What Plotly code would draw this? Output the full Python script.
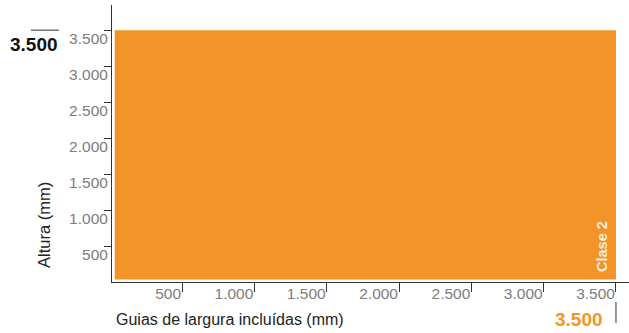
import plotly.graph_objects as go

# data
tick_vals = [500, 1000, 1500, 2000, 2500, 3000, 3500]
tick_text = ["500", "1.000", "1.500", "2.000", "2.500", "3.000", "3.500"]
clase_label = "Clase 2"
clase_width = [35, 3500]    # guias de largura (mm)
clase_height = [35, 3500]   # altura (mm)
max_width_label = "3.500"
max_height_label = "3.500"

ORANGE = "#F29427"
AXIS = "#333333"
TICKC = "#7d7d7d"
FONT = "Liberation Sans, Arial, sans-serif"

x0, x1 = clase_width
y0, y1 = clase_height

fig = go.Figure()
fig.add_trace(go.Scatter(
    x=[x0, x1, x1, x0, x0], y=[y0, y0, y1, y1, y0],
    fill="toself", fillcolor=ORANGE, mode="none", hoverinfo="skip",
    showlegend=False,
))

axis_common = dict(
    tickvals=tick_vals, ticktext=tick_text,
    ticks="outside", tickcolor=AXIS, tickwidth=1,
    showline=True, linecolor=AXIS, linewidth=1,
    showgrid=False, zeroline=False, automargin=False,
    tickfont=dict(family=FONT, size=15.5, color=TICKC),
)

fig.update_xaxes(range=[16, 3590], ticklen=9, ticklabelstandoff=-3,
                 ticklabelposition="outside left", **axis_common)
fig.update_yaxes(range=[0, 3850], ticklen=7, ticklabelshift=-3,
                 ticklabelposition="outside bottom", **axis_common)

# labels
fig.add_annotation(text="Guias de largura incluídas (mm)", xref="paper", yref="paper",
                   x=0.004, y=-0.137, xanchor="left", yanchor="middle", showarrow=False,
                   font=dict(family=FONT, size=16, color="#222"))
fig.add_annotation(text="Altura (mm)", xref="paper", yref="paper", textangle=-90,
                   x=-0.1315, y=0.206, xanchor="center", yanchor="middle", showarrow=False,
                   font=dict(family=FONT, size=16.5, color="#222"))

# max height marker
fig.add_annotation(text="<b>" + max_height_label + "</b>", xref="paper", yref="y",
                   x=-0.100, y=clase_height[1], xanchor="right", yanchor="top", yshift=-2,
                   showarrow=False, font=dict(family=FONT, size=19, color="#111"))
fig.add_shape(type="line", xref="paper", yref="y", x0=-0.1567, x1=-0.1025,
              y0=clase_height[1], y1=clase_height[1], line=dict(color=AXIS, width=1))

# max width marker
fig.add_annotation(text="<b>" + max_width_label + "</b>", xref="x", yref="paper",
                   x=clase_width[1], y=-0.1336, xanchor="right", yanchor="middle", xshift=-11,
                   showarrow=False, font=dict(family=FONT, size=19, color=ORANGE))
fig.add_shape(type="line", xref="x", yref="paper", x0=clase_width[1], x1=clase_width[1],
              y0=-0.148, y1=-0.072, line=dict(color=AXIS, width=1))

# class label
fig.add_annotation(text="<b>" + clase_label + "</b>", xref="x", yref="y", textangle=-90,
                   x=clase_width[1], y=clase_height[0], xanchor="right", yanchor="bottom",
                   xshift=-4, yshift=6, showarrow=False,
                   font=dict(family=FONT, size=14.5, color="rgba(255,255,255,0.85)"))

fig.update_layout(
    width=629, height=333,
    margin=dict(l=112, r=0, t=5, b=51),
    paper_bgcolor="white", plot_bgcolor="white",
    showlegend=False,
)

fig.write_html("out.html", config={"displayModeBar": False},
               post_script="document.body.style.margin='0';")
